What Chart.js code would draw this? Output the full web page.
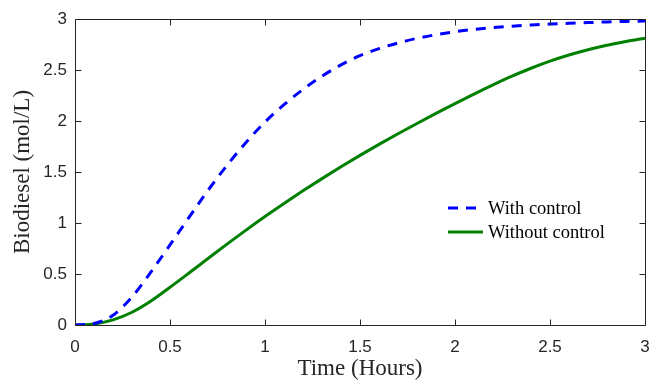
<!DOCTYPE html>
<html>
<head>
<meta charset="utf-8">
<script src="https://cdn.jsdelivr.net/npm/chart.js@4/dist/chart.umd.min.js"></script>
<style>
  html, body { margin: 0; padding: 0; background: #ffffff; }
  #wrap { width: 651px; height: 380px; }
</style>
</head>
<body>
<div id="wrap"><canvas id="c" width="651" height="380"></canvas></div>
<script>
const timeHours = [0,0.1,0.2,0.3,0.4,0.5,0.6,0.7,0.8,0.9,1.0,1.1,1.2,1.3,1.4,1.5,1.6,1.7,1.8,1.9,2.0,2.1,2.2,2.3,2.4,2.5,2.6,2.7,2.8,2.9,3.0];
const withControl = [0,0.015,0.095,0.275,0.52,0.785,1.055,1.32,1.565,1.79,1.99,2.16,2.31,2.44,2.55,2.64,2.71,2.765,2.81,2.846,2.875,2.898,2.916,2.93,2.941,2.95,2.958,2.965,2.971,2.976,2.981];
const withoutControl = [0,0.01,0.05,0.125,0.235,0.37,0.51,0.652,0.793,0.93,1.063,1.191,1.315,1.435,1.551,1.663,1.771,1.875,1.976,2.074,2.170,2.264,2.354,2.439,2.517,2.587,2.647,2.699,2.742,2.780,2.812];
const seriesNames = ["With control", "Without control"];
const xTicks = [0,0.5,1,1.5,2,2.5,3];
const yTicks = [0,0.5,1,1.5,2,2.5,3];
const xTitle = "Time (Hours)";
const yTitle = "Biodiesel (mol/L)";

const toPts = (xs, ys) => xs.map((x, i) => ({x: x, y: ys[i]}));

const boxPlugin = {
  id: 'matlabBox',
  afterDatasetsDraw(chart) {
    const {ctx, chartArea: a, scales} = chart;
    const L = Math.round(a.left) + 0.5, R = Math.round(a.right) + 0.5;
    const T = Math.round(a.top) + 0.5, B = Math.round(a.bottom) + 0.5;
    ctx.save();
    ctx.strokeStyle = '#262626';
    ctx.lineWidth = 1;
    ctx.beginPath();
    ctx.rect(L, T, R - L, B - T);
    ctx.stroke();
    const tl = 6;
    ctx.beginPath();
    xTicks.forEach(v => {
      const px = Math.round(scales.x.getPixelForValue(v)) + 0.5;
      ctx.moveTo(px, B); ctx.lineTo(px, B - tl);
      ctx.moveTo(px, T); ctx.lineTo(px, T + tl);
    });
    yTicks.forEach(v => {
      const py = Math.round(scales.y.getPixelForValue(v)) + 0.5;
      ctx.moveTo(L, py); ctx.lineTo(L + tl, py);
      ctx.moveTo(R, py); ctx.lineTo(R - tl, py);
    });
    ctx.stroke();
    ctx.restore();
  }
};

const legendPlugin = {
  id: 'insideLegend',
  afterDraw(chart) {
    const {ctx} = chart;
    const x0 = 448, x1 = 483, tx = 488;
    const ys = [208, 232];
    ctx.save();
    ctx.font = '18.5px "Liberation Serif", "Times New Roman", serif';
    ctx.textBaseline = 'middle';
    ctx.textAlign = 'left';
    chart.data.datasets.forEach((ds, i) => {
      ctx.strokeStyle = ds.borderColor;
      ctx.lineWidth = ds.borderWidth;
      ctx.setLineDash(ds.borderDash || []);
      ctx.beginPath();
      ctx.moveTo(x0, ys[i]); ctx.lineTo(x1, ys[i]);
      ctx.stroke();
      ctx.setLineDash([]);
      ctx.fillStyle = '#000000';
      ctx.fillText(ds.label, tx, ys[i] + 1);
    });
    ctx.restore();
  }
};

new Chart(document.getElementById('c'), {
  type: 'line',
  data: {
    datasets: [
      {
        label: seriesNames[0],
        data: toPts(timeHours, withControl),
        borderColor: '#0000ff',
        borderWidth: 3,
        borderDash: [10, 8],
        pointRadius: 0,
        fill: false,
        cubicInterpolationMode: 'monotone'
      },
      {
        label: seriesNames[1],
        data: toPts(timeHours, withoutControl),
        borderColor: '#008000',
        borderWidth: 3,
        pointRadius: 0,
        fill: false,
        cubicInterpolationMode: 'monotone'
      }
    ]
  },
  options: {
    responsive: false,
    animation: false,
    devicePixelRatio: 1,
    layout: { padding: { left: 0, right: 6, top: 19, bottom: 0 } },
    plugins: { legend: { display: false }, tooltip: { enabled: false } },
    scales: {
      x: {
        type: 'linear',
        min: 0, max: 3,
        afterFit(s) { s.height = 55; s.paddingLeft = 0; s.paddingRight = 0; },
        afterBuildTicks(s) { s.ticks = xTicks.map(v => ({value: v})); },
        grid: { display: false, drawTicks: false },
        border: { display: false },
        ticks: {
          padding: 12,
          maxRotation: 0,
          color: '#262626',
          font: { family: '"Liberation Sans", Arial, sans-serif', size: 17 },
          callback: v => String(v)
        },
        title: {
          display: true,
          text: xTitle,
          color: '#262626',
          font: { family: '"Liberation Serif", "Times New Roman", serif', size: 23, lineHeight: 1 },
          padding: { top: 0, bottom: 0 }
        }
      },
      y: {
        type: 'linear',
        min: 0, max: 3,
        afterFit(s) { s.width = 75; s.paddingTop = 0; s.paddingBottom = 0; },
        afterBuildTicks(s) { s.ticks = yTicks.map(v => ({value: v})); },
        grid: { display: false, drawTicks: false },
        border: { display: false },
        ticks: {
          padding: 8,
          color: '#262626',
          font: { family: '"Liberation Sans", Arial, sans-serif', size: 17 },
          callback: v => String(v)
        },
        title: {
          display: true,
          text: yTitle,
          color: '#262626',
          font: { family: '"Liberation Serif", "Times New Roman", serif', size: 23, lineHeight: 1 },
          padding: { top: 11, bottom: 0 }
        }
      }
    }
  },
  plugins: [boxPlugin, legendPlugin]
});
</script>
</body>
</html>
